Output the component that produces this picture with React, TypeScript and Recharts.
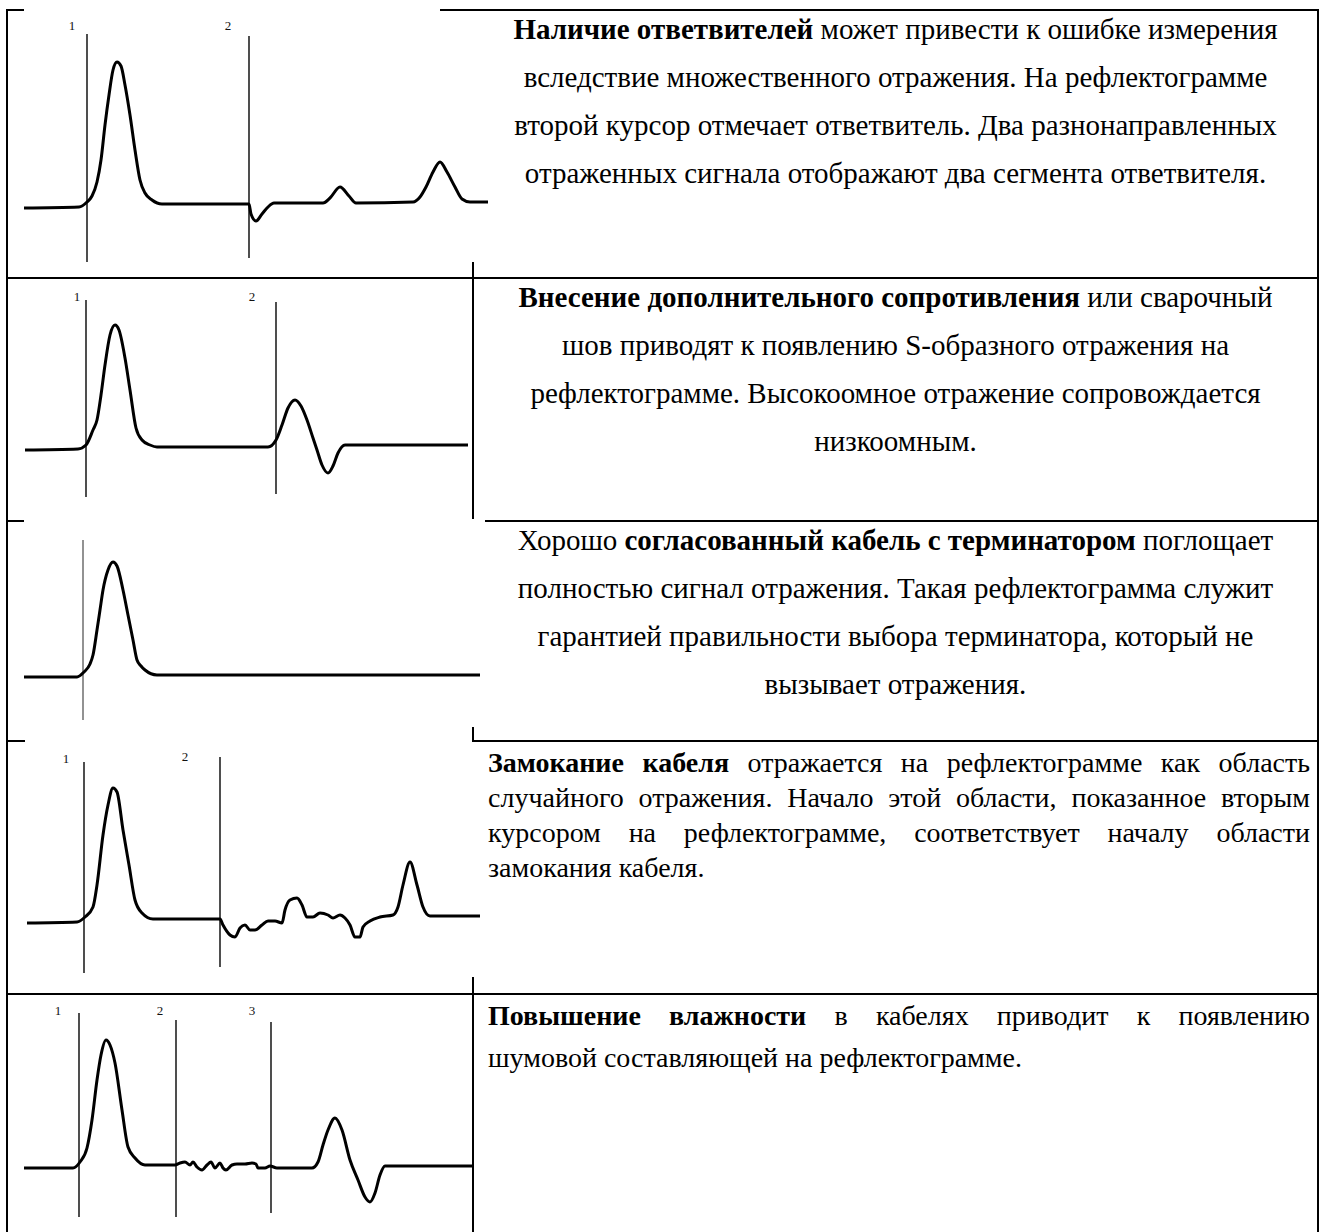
import React from 'react';
import { LineChart, Line, XAxis, YAxis, ReferenceLine, ReferenceDot } from 'recharts';

// waveform samples: [time, amplitude]
const couplerTrace = [
  [24, 0], [79, 1], [87, 6], [92, 12], [97, 26], [101, 48], [105, 83], [109, 113], [113, 138], [117, 146],
  [121, 142], [125, 123], [130, 93], [135, 58], [140, 28], [145, 15], [152, 8], [162, 4], [249, 4],
  [251, -6], [256, -13], [262, -6], [268, 1], [274, 5], [323, 5], [330, 10], [340, 21], [349, 12],
  [356, 5], [413, 6], [420, 11], [426, 21], [433, 36], [440, 46], [447, 36], [455, 21], [462, 9],
  [470, 6], [488, 6],
];
const resistanceTrace = [
  [25, 0], [78, 1], [86, 5], [93, 20], [97, 30], [101, 55], [105, 85], [110, 115], [115, 125], [119, 120],
  [125, 92], [130, 60], [136, 22], [142, 10], [150, 5], [157, 3], [268, 3], [276, 10], [282, 25],
  [288, 42], [295, 50], [301, 44], [307, 30], [313, 12], [317, 0], [322, -15], [328, -23], [333, -16],
  [338, -3], [345, 5], [468, 5],
];
const matchedTrace = [
  [24, 0], [77, 0], [84, 5], [90, 13], [93, 22], [97, 47], [100, 67], [103, 87], [108, 107], [113, 115],
  [117, 111], [123, 87], [128, 62], [133, 37], [137, 17], [141, 11], [145, 7], [157, 2], [480, 2],
];
const wetTrace = [
  [27, 0], [77, 1], [85, 6], [93, 16], [97, 38], [103, 88], [108, 118], [113, 135], [117, 131], [123, 93],
  [129, 58], [135, 23], [142, 10], [153, 4], [220, 4], [223, -2], [230, -12], [235, -14], [240, -5],
  [245, -2], [250, -7], [255, -7], [262, -2], [268, 2], [275, 2], [282, 0], [285, 13], [290, 23],
  [297, 25], [302, 18], [307, 6], [313, 6], [320, 10], [328, 8], [333, 5], [340, 8], [345, 5],
  [350, -2], [355, -14], [360, -14], [363, -4], [370, 2], [380, 6], [393, 8], [398, 16], [403, 38],
  [410, 61], [417, 38], [423, 16], [430, 7], [480, 7],
];
const humidTrace = [
  [24, 0], [73, 0], [80, 6], [87, 20], [92, 48], [97, 88], [101, 113], [106, 128], [110, 123], [115, 105],
  [122, 58], [128, 21], [135, 10], [145, 3], [175, 3], [180, 5], [185, 6], [190, 3], [193, 6], [197, 1],
  [202, -2], [207, 3], [211, 6], [215, 0], [220, 5], [223, 0], [226, -2], [232, 3], [237, 4], [245, 4],
  [252, 5], [256, 4], [258, 0], [265, 0], [270, 2], [277, 0], [312, 0], [318, 6], [323, 23], [328, 38],
  [335, 50], [342, 38], [350, 8], [358, -12], [365, -29], [370, -34], [375, -25], [380, -7], [385, 2],
  [473, 2],
];

// cursors: [time, top amplitude, bottom amplitude]
const couplerCursors = [[87, 174, -54], [249, 172, -50]];
const resistanceCursors = [[86, 150, -47], [276, 148, -44]];
const matchedCursors = [[83, 137, -43]];
const wetCursors = [[84, 161, -50], [220, 166, -44]];
const humidCursors = [[79, 155, -49], [176, 148, -49], [271, 146, -45]];

// cursor numbers: [time, amplitude, label]
const couplerLabels = [[72, 183, '1'], [228, 183, '2']];
const resistanceLabels = [[77, 154, '1'], [252, 154, '2']];
const matchedLabels: any[] = [];
const wetLabels = [[66, 165, '1'], [185, 167, '2']];
const humidLabels = [[58, 158, '1'], [160, 158, '2'], [252, 158, '3']];

const SERIF = '"Liberation Serif", "Times New Roman", serif';
const PW = 490;

type PanelProps = {
  top: number;
  height: number;
  base: number;
  trace: number[][];
  cursors: number[][];
  labels: any[];
  cursorColor?: string;
};

function Panel({ top, height, base, trace, cursors, labels, cursorColor = '#222' }: PanelProps) {
  const data = trace.map(([t, a]) => ({ t, a }));
  const yMax = base - top;
  const yMin = yMax - height;
  return (
    <div style={{ position: 'absolute', left: 0, top, width: PW, height }}>
      <LineChart width={PW} height={height} data={data} margin={{ top: 0, right: 0, bottom: 0, left: 0 }}>
        <XAxis type="number" dataKey="t" domain={[0, PW]} allowDataOverflow hide />
        <YAxis type="number" domain={[yMin, yMax]} allowDataOverflow hide />
        {cursors.map(([t, y1, y2], i) => (
          <ReferenceLine
            key={`c-${i}`}
            segment={[{ x: t, y: y1 }, { x: t, y: y2 }]}
            stroke={cursorColor}
            strokeWidth={1.6}
          />
        ))}
        <Line
          dataKey="a"
          type="monotone"
          stroke="#000"
          strokeWidth={3}
          dot={false}
          strokeLinejoin="round"
          isAnimationActive={false}
        />
        {labels.map(([t, a, txt], i) => (
          <ReferenceDot
            key={`l-${i}`}
            x={t}
            y={a}
            r={0}
            fill="none"
            stroke="none"
            label={{ value: txt, position: 'center', fill: '#111', fontSize: 13, fontFamily: SERIF }}
          />
        ))}
      </LineChart>
    </div>
  );
}

function TextBlock({
  top, lines, lineHeight, align, size,
}: { top: number; lines: any[][]; lineHeight: number; align: string; size: number }) {
  return (
    <div
      style={{
        position: 'absolute',
        left: 488,
        width: 822,
        top,
        fontFamily: SERIF,
        fontSize: size,
        lineHeight: `${lineHeight}px`,
        color: '#000',
      }}
    >
      {lines.map((parts, i) => {
        const last = i === lines.length - 1;
        const style: React.CSSProperties =
          align === 'center'
            ? { textAlign: 'center', marginLeft: -14, width: 843, whiteSpace: 'nowrap' }
            : { textAlign: 'justify', textAlignLast: last ? 'left' : 'justify', whiteSpace: last ? 'nowrap' : 'normal' };
        return (
          <div key={i} style={style}>
            {parts.map((p, j) => (typeof p === 'string' ? <span key={j}>{p}</span> : <b key={j}>{p[0]}</b>))}
          </div>
        );
      })}
    </div>
  );
}

const text1 = [
  [['Наличие ответвителей'], ' может привести к ошибке измерения'],
  ['вследствие множественного отражения. На рефлектограмме'],
  ['второй курсор отмечает ответвитель. Два разнонаправленных'],
  ['отраженных сигнала отображают два сегмента ответвителя.'],
];
const text2 = [
  [['Внесение дополнительного сопротивления'], ' или сварочный'],
  ['шов приводят к появлению S-образного отражения на'],
  ['рефлектограмме. Высокоомное отражение сопровождается'],
  ['низкоомным.'],
];
const text3 = [
  ['Хорошо ', ['согласованный кабель с терминатором'], ' поглощает'],
  ['полностью сигнал отражения. Такая рефлектограмма служит'],
  ['гарантией правильности выбора терминатора, который не'],
  ['вызывает отражения.'],
];
const text4 = [
  [['Замокание кабеля'], ' отражается на рефлектограмме как область'],
  ['случайного отражения. Начало этой области, показанное вторым'],
  ['курсором на рефлектограмме, соответствует началу области'],
  ['замокания кабеля.'],
];
const text5 = [
  [['Повышение влажности'], ' в кабелях приводит к появлению'],
  ['шумовой составляющей на рефлектограмме.'],
];

function HLine({ y }: { y: number }) {
  return <div style={{ position: 'absolute', left: 6, top: y, width: 1313, height: 2, background: '#000' }} />;
}

function Cover({ x, y, w, h }: { x: number; y: number; w: number; h: number }) {
  return <div style={{ position: 'absolute', left: x, top: y, width: w, height: h, background: '#fff' }} />;
}

export default function App() {
  return (
    <div style={{ position: 'absolute', left: 0, top: 0, width: 1320, height: 1232, background: '#fff', overflow: 'hidden' }}>
      {/* table grid */}
      <HLine y={9} />
      <HLine y={277} />
      <HLine y={520} />
      <HLine y={740} />
      <HLine y={993} />
      <div style={{ position: 'absolute', left: 6, top: 9, width: 2, height: 1223, background: '#000' }} />
      <div style={{ position: 'absolute', left: 1317, top: 9, width: 2, height: 1223, background: '#000' }} />
      <div style={{ position: 'absolute', left: 472, top: 9, width: 2, height: 1223, background: '#000' }} />

      {/* pasted pictures hide parts of the grid */}
      <Cover x={24} y={8} w={416} h={3} />
      <Cover x={24} y={11} w={464} h={251} />
      <Cover x={24} y={519} w={461} h={208} />
      <Cover x={25} y={739} w={447} h={3} />
      <Cover x={25} y={742} w={456} h={235} />

      <Panel top={11} height={252} base={208} trace={couplerTrace} cursors={couplerCursors} labels={couplerLabels} />
      <Panel top={280} height={230} base={450} trace={resistanceTrace} cursors={resistanceCursors} labels={resistanceLabels} />
      <Panel top={523} height={204} base={677} trace={matchedTrace} cursors={matchedCursors} labels={matchedLabels} cursorColor="#777" />
      <Panel top={743} height={234} base={923} trace={wetTrace} cursors={wetCursors} labels={wetLabels} />
      <Panel top={996} height={226} base={1168} trace={humidTrace} cursors={humidCursors} labels={humidLabels} />

      <TextBlock top={5} lines={text1} lineHeight={48} align="center" size={29} />
      <TextBlock top={273} lines={text2} lineHeight={48} align="center" size={29} />
      <TextBlock top={516} lines={text3} lineHeight={48} align="center" size={29} />
      <TextBlock top={745} lines={text4} lineHeight={35} align="justify" size={28} />
      <TextBlock top={995} lines={text5} lineHeight={42} align="justify" size={28} />
    </div>
  );
}
